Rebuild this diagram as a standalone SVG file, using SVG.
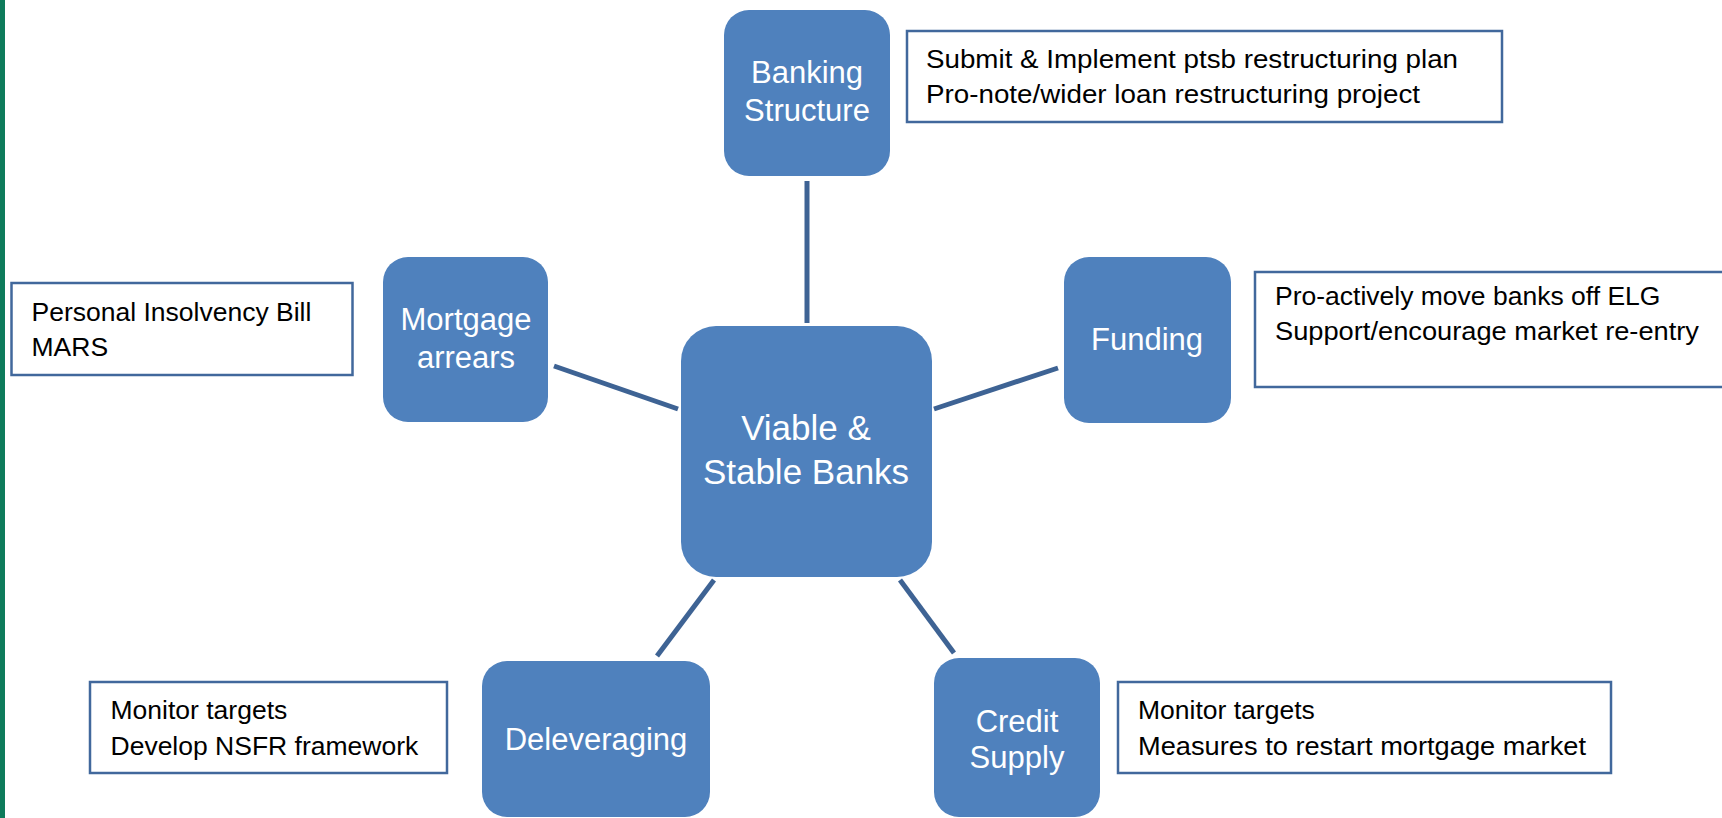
<svg xmlns="http://www.w3.org/2000/svg" width="1722" height="818" viewBox="0 0 1722 818">
  <style>
    .node { fill: #4F81BD; }
    .ntext { fill: #FFFFFF; font-family: "Liberation Sans", Arial, sans-serif; font-size: 31px; text-anchor: middle; }
    .ctext { fill: #FFFFFF; font-family: "Liberation Sans", Arial, sans-serif; font-size: 35px; text-anchor: middle; }
    .tbox { fill: #FFFFFF; stroke: #41689C; stroke-width: 2.5; }
    .btext { fill: #000000; font-family: "Liberation Sans", Arial, sans-serif; font-size: 26.5px; }
    .conn { stroke: #3E6394; stroke-width: 5; fill: none; }
  </style>
  <rect x="0" y="0" width="1722" height="818" fill="#FFFFFF"/>
  <rect id="sidebar" x="0" y="0" width="5" height="818" fill="#0E7B5B"/>

  <g id="connectors">
    <line class="conn" x1="807" y1="181" x2="807" y2="323"/>
    <line class="conn" x1="554" y1="366" x2="678" y2="409"/>
    <line class="conn" x1="934" y1="409" x2="1058" y2="368"/>
    <line class="conn" x1="714" y1="580" x2="657" y2="656"/>
    <line class="conn" x1="900" y1="580" x2="954" y2="653"/>
  </g>

  <g id="center">
    <rect class="node" x="681" y="326" width="251" height="251" rx="35" ry="35"/>
    <text class="ctext" x="806" y="440">Viable &amp;</text>
    <text class="ctext" x="806" y="484">Stable Banks</text>
  </g>

  <g id="banking-structure">
    <rect class="node" x="724" y="10" width="166" height="166" rx="25" ry="25"/>
    <text class="ntext" x="807" y="83">Banking</text>
    <text class="ntext" x="807" y="121">Structure</text>
  </g>

  <g id="mortgage-arrears">
    <rect class="node" x="383" y="257" width="165" height="165" rx="25" ry="25"/>
    <text class="ntext" x="466" y="330">Mortgage</text>
    <text class="ntext" x="466" y="368">arrears</text>
  </g>

  <g id="funding">
    <rect class="node" x="1064" y="257" width="167" height="166" rx="25" ry="25"/>
    <text class="ntext" x="1147" y="350">Funding</text>
  </g>

  <g id="deleveraging">
    <rect class="node" x="482" y="661" width="228" height="156" rx="25" ry="25"/>
    <text class="ntext" x="596" y="750">Deleveraging</text>
  </g>

  <g id="credit-supply">
    <rect class="node" x="934" y="658" width="166" height="159" rx="25" ry="25"/>
    <text class="ntext" x="1017" y="732">Credit</text>
    <text class="ntext" x="1017" y="768">Supply</text>
  </g>

  <g id="note-banking">
    <rect class="tbox" x="907" y="31" width="595" height="91"/>
    <text class="btext" x="926" y="68" font-size="27.5" textLength="532" lengthAdjust="spacingAndGlyphs">Submit &amp; Implement ptsb restructuring plan</text>
    <text class="btext" x="926" y="103" font-size="27.5" textLength="494" lengthAdjust="spacingAndGlyphs">Pro-note/wider loan restructuring project</text>
  </g>

  <g id="note-mortgage">
    <rect class="tbox" x="11.5" y="283" width="341" height="92"/>
    <text class="btext" x="31.5" y="321">Personal Insolvency Bill</text>
    <text class="btext" x="31.5" y="356">MARS</text>
  </g>

  <g id="note-funding">
    <rect class="tbox" x="1255" y="272" width="480" height="115"/>
    <text class="btext" x="1275" y="305">Pro-actively move banks off ELG</text>
    <text class="btext" x="1275" y="340" textLength="424" lengthAdjust="spacingAndGlyphs">Support/encourage market re-entry</text>
  </g>

  <g id="note-deleveraging">
    <rect class="tbox" x="90" y="682" width="357" height="91"/>
    <text class="btext" x="110.5" y="719">Monitor targets</text>
    <text class="btext" x="110.5" y="755">Develop NSFR framework</text>
  </g>

  <g id="note-credit">
    <rect class="tbox" x="1118" y="682" width="493" height="91"/>
    <text class="btext" x="1138" y="719">Monitor targets</text>
    <text class="btext" x="1138" y="755" textLength="448" lengthAdjust="spacingAndGlyphs">Measures to restart mortgage market</text>
  </g>
</svg>
